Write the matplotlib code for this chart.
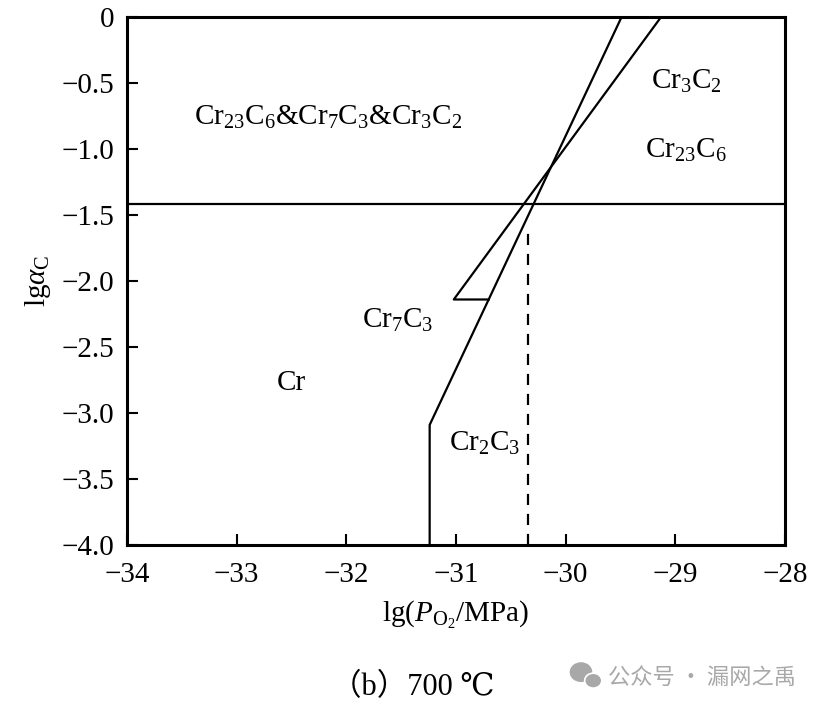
import numpy as np
import matplotlib
matplotlib.use('Agg')
import matplotlib.pyplot as plt
from matplotlib.patches import Ellipse

# data
h_line_y = -1.42
line1_x = [-31.24, -31.24, -29.49]
line1_y = [-4.0, -3.09, 0.0]
line2_x = [-30.70, -31.02, -29.13]
line2_y = [-2.14, -2.14, 0.0]
dash_x = [-30.34, -30.34]
dash_y = [-4.0, -1.59]

labels = [r'Cr$_{23}$C$_6$&Cr$_7$C$_3$&Cr$_3$C$_2$', r'Cr$_3$C$_2$', r'Cr$_{23}$C$_6$',
          r'Cr$_7$C$_3$', 'Cr', r'Cr$_2$C$_3$']
label_x = [-32.17, -28.90, -28.90, -31.53, -32.50, -30.74]
label_y = [-0.76, -0.49, -1.01, -2.30, -2.77, -3.23]

xticks = [-34, -33, -32, -31, -30, -29, -28]
yticks = [0, -0.5, -1.0, -1.5, -2.0, -2.5, -3.0, -3.5, -4.0]
yticklabels = ['0', '\u22120.5', '\u22121.0', '\u22121.5', '\u22122.0', '\u22122.5',
               '\u22123.0', '\u22123.5', '\u22124.0']

plt.rcParams['font.family'] = ['Liberation Serif', 'Noto Sans CJK SC']
plt.rcParams['mathtext.fontset'] = 'custom'
plt.rcParams['mathtext.rm'] = 'Liberation Serif'
plt.rcParams['mathtext.it'] = 'Liberation Serif:italic'
plt.rcParams['mathtext.bf'] = 'Liberation Serif:bold'

fs = 21
fig = plt.figure(figsize=(8.16, 7.09), dpi=100)
ax = fig.add_axes([0.1556, 0.2313, 0.8064, 0.7447])

lw = 1.6
ax.axhline(h_line_y, color='k', lw=lw)
ax.plot(line1_x, line1_y, color='k', lw=lw)
ax.plot(line2_x, line2_y, color='k', lw=lw)
ax.plot(dash_x, dash_y, color='k', lw=lw, ls=(0, (5, 4)))

for t, x, y in zip(labels, label_x, label_y):
    ax.text(x, y, t, fontsize=fs, ha='center', va='center')

ax.set_xlim(-34, -28)
ax.set_ylim(-4, 0)
ax.set_xticks(xticks)
ax.set_xticklabels(['\u2212%d' % abs(v) for v in xticks])
ax.set_yticks(yticks)
ax.set_yticklabels(yticklabels)
ax.tick_params(direction='in', length=8, width=1.5, labelsize=fs)
ax.tick_params(axis='x', pad=12)
ax.tick_params(axis='y', pad=9)
for s in ax.spines.values():
    s.set_linewidth(2.2)

ax.set_xlabel(r'lg($P_{\rm O_2}$/MPa)', fontsize=fs, labelpad=8)
ax.set_ylabel(r'lg$\alpha_{\rm C}$', fontsize=fs, labelpad=6)

fig.text(0.506, 0.03, '\uff08b\uff09700 \u2103', fontsize=22, ha='center', va='center',
         family=['Liberation Serif', 'DejaVu Serif', 'Noto Sans CJK SC'])

# watermark
wm = '#a8a8a8'
fig.patches.append(Ellipse((0.712, 0.052), 0.026, 0.026, transform=fig.transFigure,
                           color=wm, zorder=3))
fig.patches.append(Ellipse((0.727, 0.040), 0.021, 0.021, transform=fig.transFigure,
                           color=wm, ec='white', lw=1.2, zorder=4))
fig.text(0.745, 0.045, '公众号 · 漏网之禹', fontsize=16, color=wm,
         ha='left', va='center', family=['Noto Sans CJK SC', 'DejaVu Sans'])

fig.savefig('out.png', dpi=100)
